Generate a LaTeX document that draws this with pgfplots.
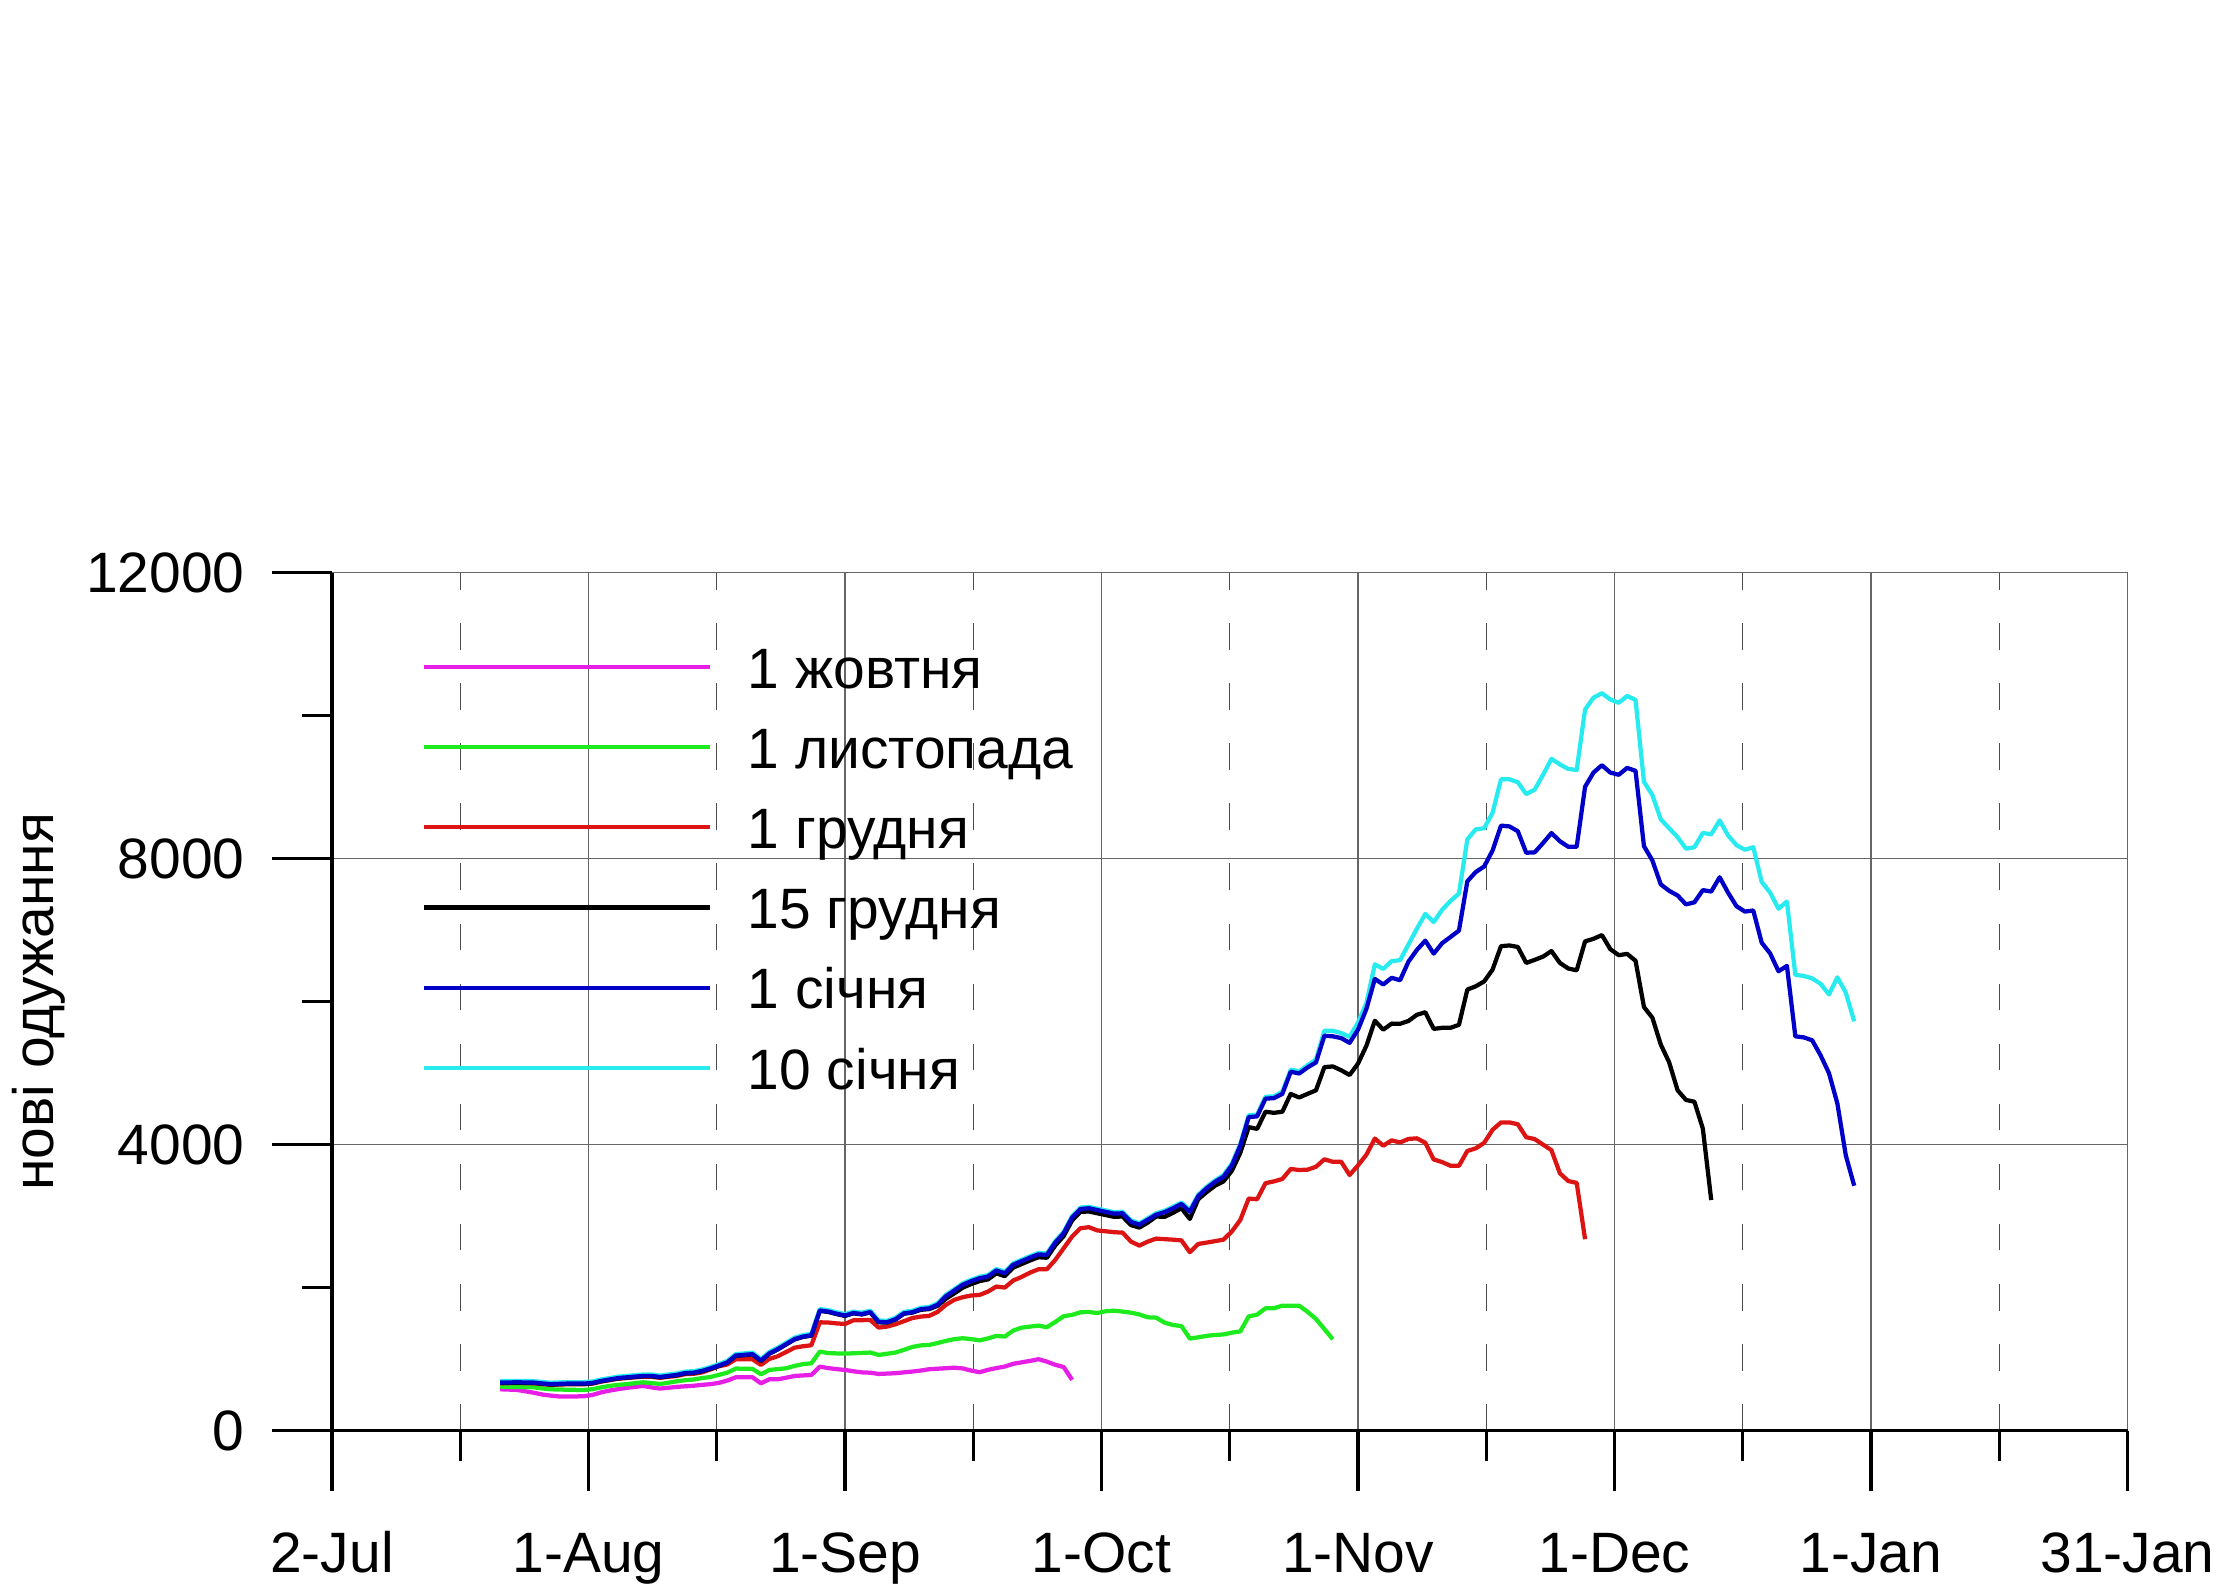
\documentclass[border=0pt]{standalone}
\usepackage{fontspec}
\setmainfont{Liberation Sans}
\usepackage{pgfplots}
\usepackage{pgfplotstable}
\pgfplotsset{compat=1.18}
\definecolor{cmag}{RGB}{230,30,230}
\definecolor{cgrn}{RGB}{30,235,30}
\definecolor{cred}{RGB}{220,20,20}
\definecolor{cblu}{RGB}{0,0,200}
\definecolor{ccyn}{RGB}{40,235,240}
\pgfplotstableread{
day mag grn red blk blu cyn
20 578 616 662 667 672 692
21 574 612 664 669 674 694
22 569 610 666 671 676 696
23 550 608 664 669 674 694
24 530 606 662 667 672 692
25 505 590 650 655 660 680
26 490 578 640 645 650 670
27 478 575 644 649 654 674
28 476 572 648 653 658 678
29 478 570 648 653 658 678
30 482 569 648 653 658 678
31 500 580 658 663 668 688
32 535 605 685 690 695 715
33 560 625 705 710 715 735
34 580 640 725 730 735 755
35 598 650 735 740 745 765
36 612 664 745 750 755 775
37 625 676 755 760 765 785
38 605 665 752 760 765 785
39 588 653 738 745 750 770
40 600 670 752 760 765 785
41 612 690 765 774 779 799
42 620 705 790 800 805 825
43 628 715 795 806 811 831
44 640 735 815 830 835 855
45 650 750 855 865 870 890
46 668 780 900 905 910 930
47 700 810 925 950 955 975
48 746 868 998 1045 1050 1070
49 746 866 998 1055 1060 1080
50 746 863 998 1065 1070 1090
51 662 788 919 975 980 1000
52 718 849 1003 1075 1080 1100
53 718 860 1040 1135 1140 1160
54 740 872 1100 1205 1210 1230
55 765 905 1160 1275 1280 1300
56 772 930 1180 1310 1315 1335
57 779 942 1194 1329 1334 1354
58 895 1105 1515 1675 1680 1700
59 875 1085 1512 1660 1665 1685
60 860 1080 1500 1630 1635 1655
61 849 1077 1492 1605 1610 1630
62 830 1082 1543 1640 1645 1665
63 815 1087 1545 1625 1630 1650
64 810 1092 1548 1653 1658 1678
65 793 1059 1441 1515 1520 1540
66 798 1075 1455 1511 1516 1536
67 803 1092 1488 1553 1558 1578
68 815 1130 1530 1635 1640 1660
69 826 1170 1575 1651 1656 1676
70 840 1192 1595 1690 1698 1718
71 859 1198 1605 1700 1710 1730
72 866 1225 1660 1745 1760 1780
73 873 1255 1760 1845 1880 1900
74 880 1280 1830 1920 1960 1980
75 870 1292 1866 2000 2040 2060
76 840 1280 1890 2050 2090 2110
77 817 1262 1898 2091 2131 2151
78 850 1290 1945 2115 2155 2175
79 875 1325 2015 2200 2240 2260
80 896 1316 2001 2161 2201 2221
81 935 1400 2100 2280 2320 2340
82 955 1440 2150 2330 2370 2390
83 975 1455 2210 2380 2420 2440
84 999 1469 2257 2425 2465 2485
85 965 1446 2257 2418 2458 2478
86 920 1520 2388 2590 2630 2650
87 890 1600 2551 2721 2761 2781
88 710 1619 2714 2940 2980 3000
89 nan 1655 2831 3060 3100 3120
90 nan 1660 2845 3065 3110 3130
91 nan 1645 2800 3040 3085 3105
92 nan 1670 2788 3015 3060 3080
93 nan 1678 2775 2990 3035 3055
94 nan 1665 2770 2995 3040 3060
95 nan 1650 2644 2875 2920 2940
96 nan 1625 2588 2840 2880 2900
97 nan 1585 2644 2910 2950 2970
98 nan 1580 2686 2995 3020 3040
99 nan 1510 2678 2990 3055 3075
100 nan 1477 2671 3046 3110 3130
101 nan 1463 2661 3111 3170 3190
102 nan 1288 2496 2961 3061 3085
103 nan 1305 2611 3236 3280 3300
104 nan 1325 2630 3336 3390 3410
105 nan 1338 2650 3426 3480 3500
106 nan 1345 2671 3486 3550 3575
107 nan 1370 2786 3635 3710 3735
108 nan 1388 2946 3885 3985 4010
109 nan 1597 3246 4245 4385 4410
110 nan 1622 3236 4220 4395 4420
111 nan 1712 3461 4460 4644 4670
112 nan 1712 3486 4445 4650 4675
113 nan 1747 3520 4460 4710 4740
114 nan 1747 3660 4709 5020 5050
115 nan 1747 3645 4659 4995 5025
116 nan 1662 3650 4710 5080 5110
117 nan 1562 3690 4760 5150 5190
118 nan 1420 3795 5084 5523 5593
119 nan 1278 3760 5094 5515 5593
120 nan nan 3760 5040 5490 5560
121 nan nan 3575 4974 5424 5508
122 nan nan 3710 5134 5608 5708
123 nan nan 3860 5384 5900 5983
124 nan nan 4085 5733 6318 6522
125 nan nan 3985 5608 6240 6458
126 nan nan 4060 5693 6333 6567
127 nan nan 4030 5690 6300 6580
128 nan nan 4080 5730 6560 6800
129 nan nan 4088 5816 6724 7020
130 nan nan 4026 5852 6853 7227
131 nan nan 3793 5619 6672 7113
132 nan nan 3756 5634 6817 7284
133 nan nan 3704 5634 6905 7409
134 nan nan 3704 5676 6994 7512
135 nan nan 3912 6169 7684 8270
136 nan nan 3948 6215 7813 8410
137 nan nan 4026 6283 7891 8425
138 nan nan 4208 6449 8114 8643
139 nan nan 4311 6776 8462 9110
140 nan nan 4311 6786 8451 9110
141 nan nan 4285 6765 8384 9069
142 nan nan 4104 6542 8083 8903
143 nan nan 4078 6584 8088 8965
144 nan nan 4000 6630 8218 9172
145 nan nan 3922 6708 8358 9396
146 nan nan 3600 6542 8244 9318
147 nan nan 3491 6464 8166 9255
148 nan nan 3465 6438 8166 9240
149 nan nan 2677 6843 9006 10086
150 nan nan nan 6879 9204 10252
151 nan nan nan 6931 9307 10314
152 nan nan nan 6734 9204 10226
153 nan nan nan 6650 9173 10180
154 nan nan nan 6668 9270 10276
155 nan nan nan 6572 9228 10220
156 nan nan nan 5925 8175 9075
157 nan nan nan 5775 7975 8890
158 nan nan nan 5400 7640 8550
159 nan nan nan 5150 7550 8425
160 nan nan nan 4760 7485 8300
161 nan nan nan 4625 7360 8140
162 nan nan nan 4600 7390 8160
163 nan nan nan 4225 7560 8360
164 nan nan nan 3225 7540 8340
165 nan nan nan nan 7740 8535
166 nan nan nan nan 7525 8325
167 nan nan nan nan 7335 8190
168 nan nan nan nan 7260 8125
169 nan nan nan nan 7275 8160
170 nan nan nan nan 6825 7675
171 nan nan nan nan 6675 7525
172 nan nan nan nan 6425 7300
173 nan nan nan nan 6500 7400
174 nan nan nan nan 5515 6375
175 nan nan nan nan 5500 6360
176 nan nan nan nan 5460 6325
177 nan nan nan nan 5250 6250
178 nan nan nan nan 5000 6100
179 nan nan nan nan 4575 6340
180 nan nan nan nan 3850 6125
181 nan nan nan nan 3425 5725
}\datatab
\newcommand{\bigfont}{\fontsize{20.1}{24}\selectfont}
\begin{document}
\begin{tikzpicture}
\path[use as bounding box] (0,0) rectangle (784pt,560pt);
\begin{axis}[
  at={(117.2pt,55pt)}, anchor=south west,
  width=633.8pt, height=302.85pt, scale only axis,
  xmin=0, xmax=213.5, ymin=0, ymax=12000,
  scaled y ticks=false, scaled x ticks=false,
  axis lines=left, axis line style={-, line width=1.15pt, black},
  tick align=outside,
  major tick length=21.2pt, minor tick length=10.6pt,
  tick style={black, line width=1.1pt},
  xtick={0,30.5,61,91.5,122,152.5,183,213.5},
  xticklabels={2-Jul,1-Aug,1-Sep,1-Oct,1-Nov,1-Dec,1-Jan,31-Jan},
  minor xtick={15.25,45.75,76.25,106.75,137.25,167.75,198.25},
  ytick={0,4000,8000,12000},
  yticklabels={0,4000,8000,12000},
  minor ytick={2000,6000,10000},
  xmajorgrids=true, ymajorgrids=true, xminorgrids=true, yminorgrids=false,
  major grid style={line width=0.5pt, black!60},
  minor grid style={line width=0.5pt, black!70, dash pattern=on 9.4pt off 11.8pt},
  tick label style={font=\bigfont},
  xticklabel style={anchor=base, yshift=-29pt},
  yticklabel style={anchor=east, inner sep=0pt, xshift=-9.5pt},
  ylabel={нові одужання},
  ylabel style={font=\bigfont, at={(axis description cs:-0.15525,0.5)}, anchor=base},
  legend cell align=left,
  legend style={at={(axis description cs:0.05017,0.9132)}, anchor=north west,
    draw=none, fill=none, inner sep=0pt, outer sep=0pt, row sep=9.3pt,
    font=\bigfont,
    nodes={inner sep=0pt, text height=14.5pt, text depth=4.5pt},
    /tikz/every odd column/.append style={column sep=12.5pt}},
  legend image code/.code={\draw[#1] (0pt,2.5pt) -- (101pt,2.5pt);},
  every axis plot/.append style={line width=1.5pt, line join=round},
]
\addplot[cmag] table[x=day,y=mag]{\datatab};
\addlegendentry{1 жовтня}
\addplot[cgrn] table[x=day,y=grn]{\datatab};
\addlegendentry{1 листопада}
\addplot[cred] table[x=day,y=red]{\datatab};
\addlegendentry{1 грудня}
\addplot[black] table[x=day,y=blk]{\datatab};
\addlegendentry{15 грудня}
\addplot[ccyn, forget plot] table[x=day,y=cyn]{\datatab};
\addplot[cblu] table[x=day,y=blu]{\datatab};
\addlegendentry{1 січня}
\addlegendimage{ccyn, line width=1.5pt}
\addlegendentry{10 січня}
\end{axis}
\end{tikzpicture}
\end{document}
